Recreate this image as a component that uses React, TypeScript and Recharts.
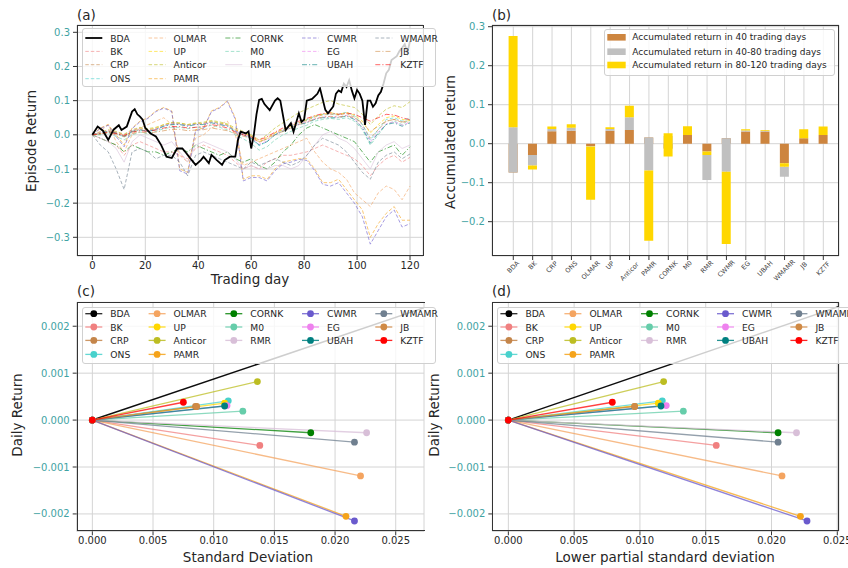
import React from 'react';
import { LineChart, Line, XAxis, YAxis, CartesianGrid, BarChart, Bar } from 'recharts';

const FONT = '"DejaVu Sans", Verdana, sans-serif';
const TEAL = '#3fa3a3';
const GRID = '#d4d4d4';
const TXT = '#262626';

// ---------- strategies ----------
const strategies = ['BDA', 'BK', 'CRP', 'ONS', 'OLMAR', 'UP', 'Anticor', 'PAMR', 'CORNK', 'M0', 'RMR', 'CWMR', 'EG', 'UBAH', 'WMAMR', 'JB', 'KZTF'];
const colors = ['#000000', '#f08080', '#c4854a', '#48d1cc', '#f4a460', '#ffd700', '#bcbd22', '#f5a31a', '#008000', '#66cdaa', '#d8bfd8', '#6a5acd', '#ee82ee', '#008080', '#708090', '#d08a45', '#ff0000'];
const dashKinds = ['solid', 'dash', 'dash', 'dash', 'dash', 'dash', 'dash', 'dash', 'dashdot', 'dash', 'solid', 'dash', 'dash', 'dashdot', 'dash', 'dashdot', 'dashdot'];

// ---------- panel (a): episode return ----------
const dayTicks = [0, 20, 40, 60, 80, 100, 120];
const retTicksA = [-0.3, -0.2, -0.1, 0, 0.1, 0.2, 0.3];
const bdaDays = [0, 2, 4, 6, 8, 10, 11, 13, 15, 16, 17, 18, 19, 20, 22, 24, 26, 28, 30, 32, 34, 35, 37, 39, 41, 42, 44, 45, 47, 49, 50, 52, 54, 55, 56, 58, 59, 60, 61, 62, 63, 64, 65, 67, 69, 70, 71, 73, 75, 76, 78, 79, 80, 81, 83, 85, 86, 88, 89, 91, 92, 93, 94, 95, 96, 97, 98, 99, 100, 101, 102, 103, 104, 105, 106, 107, 108, 109, 110, 111, 112, 113, 115, 116, 117, 118, 119, 120];
const bdaReturn = [0, 0.024, 0.012, -0.015, 0.015, 0.028, 0.014, 0.024, 0.068, 0.075, 0.06, 0.053, 0.044, 0.02, 0.004, -0.005, -0.03, -0.064, -0.068, -0.04, -0.04, -0.049, -0.069, -0.088, -0.074, -0.064, -0.083, -0.059, -0.074, -0.088, -0.074, -0.064, -0.064, -0.015, 0.009, 0.004, 0.01, -0.04, 0, 0.06, 0.102, 0.105, 0.09, 0.072, 0.1, 0.107, 0.1, 0.014, 0.034, 0.009, 0.063, 0.038, 0.045, 0.1, 0.105, 0.12, 0.136, 0.073, 0.063, 0.083, 0.12, 0.13, 0.125, 0.15, 0.14, 0.16, 0.13, 0.107, 0.131, 0.12, 0.1, 0.029, 0.1, 0.1, 0.082, 0.092, 0.115, 0.126, 0.15, 0.18, 0.19, 0.219, 0.23, 0.245, 0.255, 0.265, 0.24, 0.275];
const dayGrid = [0, 3, 6, 9, 12, 15, 18, 21, 24, 27, 30, 33, 36, 39, 42, 45, 48, 51, 54, 57, 60, 63, 66, 69, 72, 75, 78, 81, 84, 87, 90, 93, 96, 99, 102, 105, 108, 111, 114, 117, 120];
const bkReturn = [0, -0.01, -0.02, -0.03, -0.06, -0.03, -0.02, -0.03, -0.04, -0.05, -0.05, -0.06, -0.07, -0.04, -0.03, -0.04, -0.05, -0.06, -0.08, -0.1, -0.09, -0.1, -0.08, -0.07, -0.06, -0.06, -0.055, -0.05, -0.04, -0.03, -0.04, -0.05, -0.06, -0.07, -0.09, -0.12, -0.09, -0.07, -0.06, -0.08, -0.066];
const crpReturn = [0, 0.004, 0.012, 0.008, 0, 0.012, 0.02, 0.015, 0.018, 0.028, 0.034, 0.033, 0.028, 0.032, 0.034, 0.038, 0.033, 0.028, 0.014, 0.004, -0.005, -0.022, -0.012, 0.006, 0.016, 0.026, 0.036, 0.042, 0.052, 0.058, 0.06, 0.058, 0.062, 0.052, 0.03, -0.01, 0.015, 0.04, 0.045, 0.036, 0.044];
const onsReturn = [0, 0.002, 0.008, 0.004, -0.006, 0.008, 0.014, 0.01, 0.016, 0.026, 0.032, 0.032, 0.028, 0.032, 0.033, 0.038, 0.034, 0.028, 0.012, 0, -0.012, -0.032, -0.02, 0, 0.014, 0.026, 0.036, 0.044, 0.054, 0.06, 0.062, 0.06, 0.066, 0.056, 0.03, -0.015, 0.015, 0.045, 0.05, 0.04, 0.05];
const olmarReturn = [0, 0.01, 0.03, -0.02, -0.05, 0, 0.02, 0.03, 0.04, 0.05, 0.03, -0.06, -0.08, -0.01, 0, 0.02, 0.03, 0.04, 0, -0.09, -0.08, -0.07, -0.06, -0.05, -0.04, -0.03, -0.02, -0.01, -0.05, -0.08, -0.1, -0.11, -0.13, -0.17, -0.19, -0.21, -0.17, -0.15, -0.16, -0.19, -0.15];
const upReturn = [0, 0.003, 0.01, 0.006, -0.002, 0.01, 0.018, 0.014, 0.02, 0.03, 0.035, 0.034, 0.03, 0.033, 0.033, 0.04, 0.035, 0.03, 0.015, 0.005, -0.003, -0.02, -0.008, 0.005, 0.015, 0.025, 0.035, 0.045, 0.055, 0.06, 0.065, 0.06, 0.065, 0.058, 0.04, 0.005, 0.03, 0.05, 0.055, 0.045, 0.042];
const anticorReturn = [0, 0.008, 0.015, 0.01, 0.002, 0.015, 0.022, 0.018, 0.022, 0.03, 0.036, 0.035, 0.03, 0.035, 0.037, 0.042, 0.038, 0.032, 0.02, 0.01, 0, -0.015, 0, 0.02, 0.035, 0.05, 0.065, 0.075, 0.085, 0.095, 0.1, 0.09, 0.085, 0.08, 0.06, 0.03, 0.055, 0.075, 0.085, 0.08, 0.097];
const pamrReturn = [0, 0.02, 0.03, 0, -0.03, 0.02, 0.04, 0.05, 0.07, 0.08, 0.07, -0.1, -0.11, 0.015, 0.02, 0.07, 0.08, 0.1, 0.05, -0.13, -0.12, -0.12, -0.13, -0.1, -0.08, -0.075, -0.07, -0.07, -0.1, -0.14, -0.14, -0.13, -0.16, -0.19, -0.22, -0.3, -0.26, -0.23, -0.21, -0.25, -0.25];
const cornkReturn = [0, -0.01, -0.02, -0.03, -0.05, -0.03, -0.04, -0.05, -0.05, -0.06, -0.05, -0.04, -0.05, -0.03, -0.04, -0.05, -0.06, -0.05, -0.07, -0.08, -0.07, -0.09, -0.1, -0.08, -0.05, -0.03, 0, 0.02, 0.03, 0.02, 0.01, 0, -0.01, -0.02, -0.05, -0.08, -0.05, -0.04, -0.03, -0.06, -0.035];
const m0Return = [0, 0, 0.005, -0.005, -0.015, 0, 0.008, 0.004, 0.01, 0.018, 0.022, 0.022, 0.018, 0.022, 0.022, 0.028, 0.022, 0.015, 0, -0.012, -0.025, -0.045, -0.035, -0.015, 0, 0.01, 0.02, 0.028, 0.04, 0.045, 0.048, 0.045, 0.05, 0.04, 0.015, -0.03, 0, 0.03, 0.04, 0.03, 0.045];
const rmrReturn = [0, -0.01, -0.02, -0.04, -0.08, -0.02, 0, -0.01, -0.02, -0.03, -0.02, -0.05, -0.08, -0.03, -0.02, -0.03, -0.04, -0.05, -0.07, -0.1, -0.09, -0.1, -0.1, -0.09, -0.09, -0.1, -0.09, -0.06, -0.03, 0, 0.01, -0.01, -0.02, -0.04, -0.07, -0.1, -0.05, -0.03, -0.02, -0.04, -0.03];
const cwmrReturn = [0, 0.018, 0.028, -0.005, -0.035, 0.018, 0.038, 0.048, 0.068, 0.078, 0.068, -0.105, -0.115, 0.012, 0.018, 0.068, 0.078, 0.098, 0.045, -0.135, -0.125, -0.125, -0.135, -0.105, -0.085, -0.08, -0.072, -0.075, -0.105, -0.145, -0.15, -0.14, -0.17, -0.2, -0.24, -0.32, -0.28, -0.24, -0.22, -0.27, -0.26];
const egReturn = [0, 0.006, 0.012, 0.006, -0.003, 0.012, 0.017, 0.012, 0.017, 0.027, 0.032, 0.031, 0.027, 0.031, 0.032, 0.037, 0.032, 0.027, 0.012, 0.002, -0.008, -0.028, -0.018, 0.002, 0.012, 0.022, 0.032, 0.037, 0.047, 0.052, 0.053, 0.052, 0.057, 0.047, 0.022, -0.02, 0.008, 0.032, 0.038, 0.028, 0.037];
const ubahReturn = [0, 0.005, 0.01, 0.005, -0.005, 0.01, 0.015, 0.01, 0.015, 0.025, 0.03, 0.03, 0.025, 0.03, 0.03, 0.035, 0.03, 0.025, 0.01, 0, -0.01, -0.03, -0.02, 0, 0.01, 0.02, 0.03, 0.035, 0.045, 0.05, 0.05, 0.05, 0.055, 0.045, 0.02, -0.025, 0.005, 0.03, 0.035, 0.025, 0.035];
const wmamrReturn = [0, -0.03, -0.05, -0.1, -0.16, -0.05, -0.04, -0.05, -0.07, -0.06, -0.06, -0.08, -0.12, -0.06, -0.05, -0.06, -0.07, -0.08, -0.09, -0.1, -0.08, -0.09, -0.08, -0.07, -0.08, -0.09, -0.08, -0.06, -0.03, -0.01, -0.02, -0.03, -0.05, -0.08, -0.11, -0.13, -0.08, -0.06, -0.05, -0.07, -0.056];
const jbReturn = [0, 0.002, 0.006, 0.002, -0.006, 0.004, 0.008, 0.005, 0.008, 0.012, 0.016, 0.016, 0.012, 0.014, 0.015, 0.02, 0.016, 0.012, 0.004, -0.004, -0.01, -0.02, -0.012, 0, 0.01, 0.02, 0.03, 0.038, 0.046, 0.052, 0.054, 0.052, 0.056, 0.05, 0.035, 0.01, 0.025, 0.04, 0.045, 0.038, 0.037];
const kztfReturn = [0, 0.003, 0.008, 0.004, -0.002, 0.008, 0.012, 0.01, 0.014, 0.02, 0.024, 0.024, 0.02, 0.022, 0.024, 0.03, 0.026, 0.02, 0.008, 0, -0.006, -0.015, -0.006, 0.008, 0.02, 0.03, 0.04, 0.048, 0.056, 0.062, 0.064, 0.06, 0.064, 0.06, 0.05, 0.04, 0.05, 0.06, 0.058, 0.05, 0.044];
const gridSeries = [null, bkReturn, crpReturn, onsReturn, olmarReturn, upReturn, anticorReturn, pamrReturn, cornkReturn, m0Return, rmrReturn, cwmrReturn, egReturn, ubahReturn, wmamrReturn, jbReturn, kztfReturn];

// ---------- panel (b): accumulated return segments [low, high] ----------
const ret40Seg = [[-0.074, 0], [-0.029, 0], [0, 0.032], [0, 0.033], [-0.006, 0], [0, 0.033], [0, 0.035], [0, 0.016], [-0.012, 0], [0, 0.022], [-0.02, 0], [0, 0.014], [0, 0.031], [0, 0.031], [-0.05, 0], [0, 0.014], [0, 0.022]];
const ret80Seg = [[-0.074, 0.042], [-0.056, -0.029], [0.032, 0.038], [0.033, 0.041], [-0.007, -0.006], [0.033, 0.038], [0.035, 0.068], [-0.069, 0.016], [-0.012, 0.02], [0.022, 0.022], [-0.093, -0.029], [-0.072, 0.014], [0.031, 0.034], [0.031, 0.033], [-0.085, -0.059], [0.014, 0.014], [0.022, 0.022]];
const ret120Seg = [[0.042, 0.276], [-0.066, -0.056], [0.038, 0.044], [0.041, 0.05], [-0.144, -0.007], [0.038, 0.042], [0.068, 0.097], [-0.249, -0.069], [-0.033, 0.027], [0.022, 0.045], [-0.029, -0.02], [-0.257, -0.072], [0.034, 0.037], [0.033, 0.035], [-0.059, -0.05], [0.014, 0.037], [0.022, 0.044]];
const barTicks = [-0.2, -0.1, 0, 0.1, 0.2, 0.3];
const barLegend = ['Accumulated return in 40 trading days', 'Accumulated return in 40-80 trading days', 'Accumulated return in 80-120 trading days'];
const barColors = ['#cd853f', '#c0c0c0', '#ffd700'];

// ---------- panels (c), (d): risk / return ----------
const dailyReturn = [0.0026, -0.00054, 0.00029, 0.00041, -0.00119, 0.00036, 0.00082, -0.00205, -0.00027, 0.00019, -0.00027, -0.00215, 0.00031, 0.0003, -0.00047, 0.00029, 0.00038];
const stdDeviation = [0.0297, 0.0138, 0.0085, 0.0112, 0.0221, 0.0109, 0.0136, 0.0209, 0.018, 0.0124, 0.0226, 0.0216, 0.0111, 0.0109, 0.0216, 0.0086, 0.0075];
const lowerPartialStd = [0.027, 0.0158, 0.0096, 0.0117, 0.0208, 0.0114, 0.0118, 0.0222, 0.0205, 0.0133, 0.0219, 0.0227, 0.012, 0.0116, 0.0205, 0.0096, 0.0079];
const riskTicks = [0, 0.005, 0.01, 0.015, 0.02, 0.025];
const dailyTicks = [-0.002, -0.001, 0, 0.001, 0.002];

// ---------- helpers ----------
const fmt = (d: number) => (v: number) => (v < -1e-12 ? '\u2212' : '') + Math.abs(v).toFixed(d);
const dashOf = (k: string) => (k === 'dash' ? '3.5 2' : k === 'dashdot' ? '5 2 1.2 2' : undefined);
const colOf = (i: number) => (i < 4 ? 0 : i < 8 ? 1 : i < 11 ? 2 : i < 14 ? 3 : 4);
const rowOf = (i: number) => (i < 4 ? i : i < 8 ? i - 4 : i < 11 ? i - 8 : i < 14 ? i - 11 : i - 14);

const yTick = { fontSize: 10, fill: TEAL, fontFamily: FONT };
const xTick = { fontSize: 10, fill: TXT, fontFamily: FONT };

function Frame({ left, top, width, height, noRight }: any) {
  return (
    <div style={{ position: 'absolute', left, top, width, height, boxSizing: 'border-box', border: '1px solid #333', borderRight: noRight ? 'none' : '1px solid #333', pointerEvents: 'none' }} />
  );
}

function SeriesLegend({ left, top, width, height, textX, rowY, marker }: any) {
  return (
    <div style={{ position: 'absolute', left, top, width, height, boxSizing: 'border-box', background: 'rgba(255,255,255,0.8)', border: '1px solid #d0d0d0', borderRadius: 3 }}>
      <svg width={width} height={height} style={{ position: 'absolute', left: -1, top: -1, overflow: 'visible' }}>
        {strategies.map((s, i) => {
          const tx = textX[colOf(i)] - left;
          const ty = rowY[rowOf(i)] - top;
          const c = colors[i];
          const isBda = i === 0;
          return (
            <g key={s}>
              <line x1={tx - 25} x2={tx - 8} y1={ty} y2={ty} stroke={c}
                strokeWidth={marker ? 1.3 : isBda ? 1.8 : 1}
                strokeOpacity={marker ? 0.85 : isBda ? 1 : 0.6}
                strokeDasharray={marker ? undefined : dashOf(dashKinds[i])} />
              {marker && <circle cx={tx - 16.5} cy={ty} r={3.4} fill={c} />}
              <text x={tx} y={ty} dominantBaseline="central" fontSize={9.2} fill={TXT} fontFamily={FONT}>{s}</text>
            </g>
          );
        })}
      </svg>
    </div>
  );
}

const estWidth = (s: string, fs: number) => s.split('').reduce((a, ch) => a + (ch >= 'A' && ch <= 'Z' ? 0.7 : ch >= '0' && ch <= '9' ? 0.64 : 0.56), 0) * fs;

function RotTick(props: any) {
  const { x, y, payload } = props;
  const label = String(payload.value);
  const fs = 6.5;
  const w = estWidth(label, fs);
  const cy = y - 2 + (w + fs) * 0.354;
  return (
    <text x={x} y={cy} transform={`rotate(-45 ${x} ${cy})`} textAnchor="middle" dominantBaseline="central" fontSize={fs} fill="#444" fontFamily={FONT}>{label}</text>
  );
}

function RiskPanel({ left, top, width, height, margin, xDomain, riskValues }: any) {
  return (
    <div style={{ position: 'absolute', left, top }}>
      <LineChart width={width} height={height} margin={margin}>
        <CartesianGrid stroke={GRID} strokeWidth={1} />
        <XAxis type="number" dataKey="x" domain={xDomain} allowDataOverflow ticks={riskTicks} tickFormatter={fmt(3)}
          axisLine={false} tickLine={{ stroke: '#333' }} tickSize={4} tickMargin={2} height={26} tick={xTick} interval={0} />
        <YAxis type="number" dataKey="y" domain={[-0.00237, 0.00251]} allowDataOverflow ticks={dailyTicks} tickFormatter={fmt(3)}
          axisLine={false} tickLine={{ stroke: '#333' }} tickSize={4} tickMargin={3} width={50} tick={yTick} interval={0} />
        {strategies.map((s, i) => (
          <Line key={s} data={[{ x: 0, y: 0 }, { x: riskValues[i], y: dailyReturn[i] }]} dataKey="y" stroke={colors[i]}
            strokeWidth={i === 0 ? 1.5 : 1.3} strokeOpacity={i === 0 ? 0.95 : 0.75}
            dot={{ r: 3.4, fill: colors[i], stroke: colors[i], strokeWidth: 0 }} activeDot={false} isAnimationActive={false} />
        ))}
      </LineChart>
    </div>
  );
}

export default function App() {
  const bdaData = bdaDays.map((d, i) => ({ x: d, y: bdaReturn[i] }));
  const barData = strategies.map((s, i) => ({ name: s, r40: ret40Seg[i], r80: ret80Seg[i], r120: ret120Seg[i] }));

  return (
    <div style={{ position: 'absolute', left: 0, top: 0, width: 848, height: 568, background: '#fff', overflow: 'hidden', fontFamily: FONT }}>
      {/* titles and axis labels */}
      <svg width={848} height={568} style={{ position: 'absolute', left: 0, top: 0 }}>
        <g fontFamily={FONT} fontSize={13.5} fill={TXT}>
          <text x={77} y={19.5}>(a)</text>
          <text x={492} y={19.5}>(b)</text>
          <text x={77} y={295.5}>(c)</text>
          <text x={492} y={295.5}>(d)</text>
          <text x={31} y={141} transform="rotate(-90 31 141)" textAnchor="middle" dominantBaseline="central">Episode Return</text>
          <text x={250} y={284} textAnchor="middle">Trading day</text>
          <text x={450} y={142} transform="rotate(-90 450 142)" textAnchor="middle" dominantBaseline="central">Accumulated return</text>
          <text x={17} y={415} transform="rotate(-90 17 415)" textAnchor="middle" dominantBaseline="central">Daily Return</text>
          <text x={434} y={415} transform="rotate(-90 434 415)" textAnchor="middle" dominantBaseline="central">Daily Return</text>
          <text x={248} y={561.5} textAnchor="middle">Standard Deviation</text>
          <text x={665} y={561.5} textAnchor="middle">Lower partial standard deviation</text>
        </g>
      </svg>

      {/* (a) episode return */}
      <div style={{ position: 'absolute', left: 0, top: 0 }}>
        <LineChart width={430} height={290} margin={{ top: 25, right: 7, bottom: 8, left: 27 }}>
          <CartesianGrid stroke={GRID} strokeWidth={1} />
          <XAxis type="number" dataKey="x" domain={[-5.8, 124.9]} allowDataOverflow ticks={dayTicks}
            axisLine={false} tickLine={{ stroke: '#333' }} tickSize={4} tickMargin={2} height={26} tick={xTick} interval={0} />
          <YAxis type="number" dataKey="y" domain={[-0.3547, 0.3214]} allowDataOverflow ticks={retTicksA} tickFormatter={fmt(1)}
            axisLine={false} tickLine={{ stroke: '#333' }} tickSize={4} tickMargin={3} width={50} tick={yTick} interval={0} />
          {gridSeries.map((vals, i) => vals ? (
            <Line key={strategies[i]} data={dayGrid.map((d, k) => ({ x: d, y: vals[k] }))} dataKey="y"
              stroke={colors[i]} strokeWidth={1} strokeOpacity={0.6} strokeDasharray={dashOf(dashKinds[i])}
              dot={false} activeDot={false} isAnimationActive={false} />
          ) : null)}
          <Line data={bdaData} dataKey="y" stroke="#000" strokeWidth={1.8} dot={false} activeDot={false} isAnimationActive={false} />
        </LineChart>
      </div>
      <Frame left={77} top={25} width={347} height={231} />

      {/* (b) accumulated return bars */}
      <div style={{ position: 'absolute', left: 430, top: 0 }}>
        <BarChart width={418} height={290} data={barData} margin={{ top: 25, right: 9, bottom: 4, left: 22 }} barGap={-9}>
          <CartesianGrid stroke={GRID} strokeWidth={1} />
          <XAxis dataKey="name" type="category" padding={{ left: 11.6, right: 6 }} axisLine={false}
            tickLine={{ stroke: '#333' }} tickSize={4} tickMargin={2} height={30} interval={0} tick={<RotTick />} />
          <YAxis type="number" domain={[-0.288, 0.3044]} allowDataOverflow ticks={barTicks} tickFormatter={fmt(1)}
            axisLine={false} tickLine={{ stroke: '#333' }} tickSize={4} tickMargin={3} width={40} tick={yTick} interval={0} />
          <Bar dataKey="r40" fill={barColors[0]} barSize={9} isAnimationActive={false} />
          <Bar dataKey="r80" fill={barColors[1]} barSize={9} isAnimationActive={false} />
          <Bar dataKey="r120" fill={barColors[2]} barSize={9} isAnimationActive={false} />
        </BarChart>
      </div>
      <Frame left={492} top={25} width={347} height={231} />

      {/* (c), (d) risk-return */}
      <RiskPanel left={0} top={290} width={430} height={278} margin={{ top: 12.3, right: 6, bottom: 10.7, left: 26.7 }}
        xDomain={[-0.00129, 0.02733]} riskValues={stdDeviation} />
      <Frame left={76.7} top={302.3} width={348} height={229} noRight />
      <RiskPanel left={430} top={290} width={418} height={278} margin={{ top: 12.3, right: 9, bottom: 10.7, left: 12.3 }}
        xDomain={[-0.00122, 0.02513]} riskValues={lowerPartialStd} />
      <Frame left={492.3} top={302.3} width={346.7} height={229} />

      {/* legends */}
      <SeriesLegend left={81.7} top={28.3} width={354.3} height={59} textX={[110, 173.3, 250, 326.7, 400]} rowY={[38.3, 51.7, 65, 79]} />
      <div style={{ position: 'absolute', left: 604, top: 29, width: 231, height: 47, boxSizing: 'border-box', background: 'rgba(255,255,255,0.8)', border: '1px solid #d0d0d0', borderRadius: 3 }}>
        <svg width={231} height={47} style={{ position: 'absolute', left: -1, top: -1 }}>
          {barLegend.map((t, i) => (
            <g key={t}>
              <rect x={3.3} y={[37.3, 51.7, 65][i] - 29 - 3.3} width={18.4} height={6.6} fill={barColors[i]} />
              <text x={28.3} y={[37.3, 51.7, 65][i] - 29} dominantBaseline="central" fontSize={9} fill={TXT} fontFamily={FONT}>{t}</text>
            </g>
          ))}
        </svg>
      </div>
      <SeriesLegend left={81.7} top={307.3} width={354.3} height={57} textX={[110, 173.3, 250, 326.7, 400]} rowY={[314, 327.3, 340.7, 354.7]} marker />
      <SeriesLegend left={497.3} top={307.3} width={357} height={57} textX={[525.7, 589.7, 666.3, 742.3, 815.7]} rowY={[314, 327.3, 340.7, 354.7]} marker />
    </div>
  );
}
